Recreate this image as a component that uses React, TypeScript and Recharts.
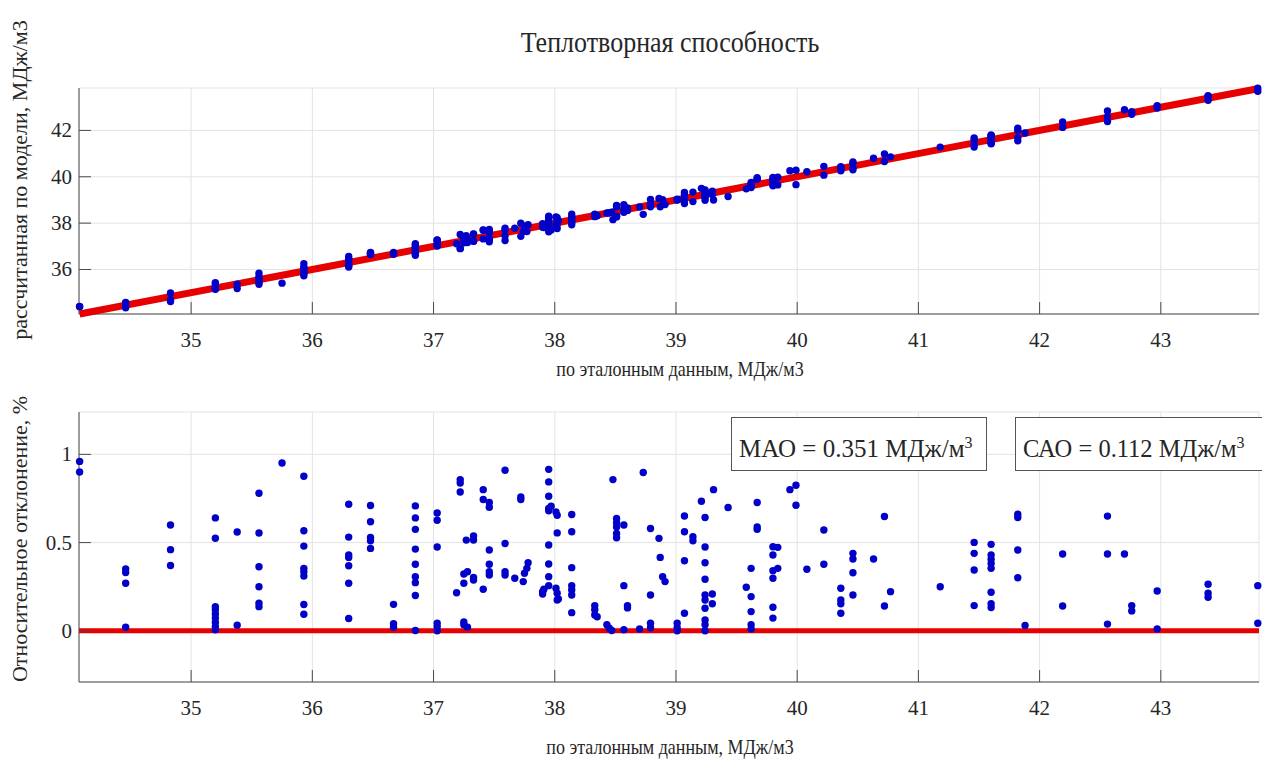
import { CartesianGrid, Scatter, ScatterChart, XAxis, YAxis } from "recharts";

const CHART_WIDTH = 1262;
const FONT = '"Liberation Serif", "Times New Roman", serif';
const DOT_COLOR = "#0000c8";
const DOT_RADIUS = 3.7;
const LINE_COLOR = "#e60000";
const AXIS_COLOR = "#4a4a4a";
const GRID_COLOR = "#e3e3e3";
const TEXT_COLOR = "#262626";
const TICK_FONT_SIZE = 21;
const TICK_LENGTH = 12;

const X_DOMAIN: [number, number] = [34.075, 43.81];
const TOP_Y_DOMAIN: [number, number] = [34.08, 43.83];
const BOTTOM_Y_DOMAIN: [number, number] = [-0.29, 1.24];

const xTicks = [35, 36, 37, 38, 39, 40, 41, 42, 43];
const topYTicks = [36, 38, 40, 42];
const bottomYTicks = [0, 0.5, 1];

// reference values (x of both panels)
const refValues = [
  34.08, 34.08,
  34.46, 34.46, 34.46, 34.46,
  34.83, 34.83, 34.83,
  35.2, 35.2, 35.2, 35.2, 35.2, 35.2, 35.2, 35.2, 35.2,
  35.38, 35.38,
  35.56, 35.56, 35.56, 35.56, 35.56, 35.56,
  35.75,
  35.93, 35.93, 35.93, 35.93, 35.93, 35.93, 35.93, 35.93,
  36.3, 36.3, 36.3, 36.3, 36.3, 36.3, 36.3,
  36.48, 36.48, 36.48, 36.48, 36.48,
  36.67, 36.67, 36.67,
  36.85, 36.85, 36.85, 36.85, 36.85, 36.85, 36.85, 36.85, 36.85,
  37.03, 37.03, 37.03, 37.03, 37.03, 37.03,
  37.19,
  37.22, 37.22, 37.22,
  37.25, 37.25, 37.25, 37.25,
  37.27,
  37.28, 37.28,
  37.33, 37.33, 37.33, 37.33,
  37.41, 37.41, 37.41,
  37.46, 37.46, 37.46, 37.46, 37.46, 37.46,
  37.59, 37.59, 37.59, 37.59,
  37.67,
  37.72, 37.72,
  37.74, 37.75, 37.77, 37.78,
  37.9, 37.9, 37.91,
  37.95, 37.95, 37.95, 37.95, 37.95, 37.95, 37.95, 37.95, 37.95,
  37.97,
  38.01, 38.02, 38.02, 38.01, 38.02, 38.02,
  38.03,
  38.14, 38.14, 38.14, 38.14, 38.14, 38.14, 38.14,
  38.33, 38.33, 38.33,
  38.35,
  38.43, 38.45, 38.47,
  38.48,
  38.51, 38.51, 38.51, 38.51, 38.51,
  38.57, 38.57, 38.57,
  38.6, 38.6,
  38.7, 38.73,
  38.79, 38.79, 38.79, 38.79,
  38.86, 38.87, 38.89, 38.91,
  39.01, 39.01, 39.01,
  39.07, 39.07, 39.07, 39.07,
  39.14, 39.14,
  39.21,
  39.24, 39.24, 39.24, 39.24, 39.24, 39.24, 39.24, 39.24, 39.24, 39.24,
  39.3, 39.3,
  39.31, 39.43, 39.58,
  39.62, 39.62, 39.62, 39.62, 39.62,
  39.67, 39.67, 39.67,
  39.8, 39.8, 39.8, 39.8, 39.8, 39.8,
  39.84, 39.84,
  39.94,
  39.99, 39.99,
  40.08,
  40.22, 40.22,
  40.36, 40.36, 40.36, 40.36,
  40.46, 40.46, 40.46, 40.46,
  40.63,
  40.72, 40.72,
  40.77, 41.18,
  41.46, 41.46, 41.46, 41.46,
  41.6, 41.6, 41.6, 41.6, 41.6, 41.6, 41.6, 41.6,
  41.82, 41.82, 41.82, 41.82,
  41.88,
  42.19, 42.19,
  42.56, 42.56, 42.56,
  42.7,
  42.76, 42.76,
  42.97, 42.97,
  43.39, 43.39, 43.39,
  43.8, 43.8,
];

// model values (y of the upper panel)
const modelValues = [
  34.41, 34.39,
  34.58, 34.35, 34.55, 34.45,
  34.62, 34.99, 34.7,
  35.43, 35.39, 35.15, 35.24, 35.17, 35.23, 35.18, 35.21, 35.2,
  35.18, 35.37,
  35.84, 35.36, 35.69, 35.47, 35.62, 35.51,
  35.41,
  36.25, 35.73, 36.1, 36.06, 35.81, 36.04, 35.88, 35.96,
  36.56, 36.11, 36.46, 36.15, 36.43, 36.2, 36.33,
  36.74, 36.71, 36.67, 36.67, 36.65,
  36.73, 36.66, 36.68,
  37.11, 36.61, 37.06, 36.68, 36.99, 36.74, 36.95, 36.78, 36.85,
  37.28, 37.26, 37.21, 37.01, 37.04, 37.03,
  37.11,
  36.9, 36.91, 37.51,
  37.37, 37.15, 37.27, 37.24,
  37.46,
  37.16, 37.29,
  37.53, 37.52, 37.22, 37.22,
  37.71, 37.69, 37.32,
  37.73, 37.2, 37.63, 37.32, 37.59, 37.34,
  37.25, 37.78, 37.46, 37.71,
  37.78,
  37.43, 38.0,
  37.64, 37.87, 37.64, 37.93,
  37.82, 37.98, 37.81,
  38.3, 37.63, 38.24, 37.69, 38.21, 37.77, 38.09, 37.83, 38.05,
  37.7,
  38.27, 37.77, 38.23, 37.92, 38.1, 37.95,
  38.1,
  38.39, 37.93, 38.28, 38.04, 38.23, 38.06, 38.18,
  38.39, 38.28, 38.36,
  38.32,
  38.44, 38.44, 38.47,
  38.15,
  38.76, 38.27, 38.74, 38.3, 38.71,
  38.8, 38.47, 38.57,
  38.55, 38.65,
  38.7, 38.38,
  39.02, 38.71, 38.81, 38.78,
  39.06, 38.71, 39.01, 38.8,
  39.03, 39.0, 39.01,
  39.32, 38.85, 39.23, 39.03,
  38.93, 39.34,
  39.5,
  38.99, 39.43, 39.09, 39.36, 39.16, 39.31, 39.19, 39.26, 39.23, 39.24,
  39.38, 39.24,
  39.0, 39.15, 39.48,
  39.76, 39.54, 39.66, 39.61, 39.62,
  39.96, 39.9, 39.9,
  39.61, 39.97, 39.66, 39.92, 39.75, 39.83,
  39.65, 39.98,
  40.26,
  39.66, 40.28,
  40.22,
  40.45, 40.07,
  40.26, 40.43, 40.3, 40.4,
  40.64, 40.3, 40.59, 40.38,
  40.8,
  40.98, 40.66,
  40.86, 41.28,
  41.67, 41.28, 41.6, 41.4,
  41.8, 41.42, 41.77, 41.44, 41.75, 41.51, 41.66, 41.55,
  42.1, 41.55, 42.01, 41.69,
  41.89,
  42.37, 42.13,
  42.84, 42.38, 42.58,
  42.89,
  42.7, 42.81,
  43.07, 42.97,
  43.5, 43.3, 43.47,
  43.69, 43.82,
];

// relative deviation, % (y of the lower panel)
const deviationValues = [
  0.96, 0.9,
  0.35, 0.33, 0.27, 0.02,
  0.6, 0.46, 0.37,
  0.64, 0.525, 0.137, 0.119, 0.096, 0.072, 0.047, 0.024, 0.006,
  0.56, 0.032,
  0.78, 0.554, 0.363, 0.25, 0.156, 0.137,
  0.951,
  0.876, 0.567, 0.48, 0.354, 0.335, 0.31, 0.149, 0.094,
  0.717, 0.531, 0.43, 0.416, 0.369, 0.27, 0.07,
  0.71, 0.618, 0.529, 0.51, 0.467,
  0.15, 0.04, 0.02,
  0.708, 0.64, 0.575, 0.463, 0.377, 0.307, 0.273, 0.2, 0.002,
  0.668, 0.627, 0.475, 0.043, 0.024, 0,
  0.216,
  0.857, 0.838, 0.787,
  0.322, 0.27, 0.05, 0.034,
  0.514,
  0.335, 0.02,
  0.537, 0.514, 0.303, 0.288,
  0.8, 0.744, 0.236,
  0.727, 0.7, 0.458, 0.377, 0.335, 0.316,
  0.91, 0.495, 0.335, 0.316,
  0.298,
  0.759, 0.744,
  0.279, 0.326, 0.354, 0.386,
  0.222, 0.209, 0.236,
  0.915, 0.844, 0.763, 0.693, 0.68, 0.486, 0.379, 0.307, 0.256,
  0.706,
  0.674, 0.655, 0.555, 0.241, 0.213, 0.175,
  0.18,
  0.659, 0.561, 0.358, 0.256, 0.232, 0.203, 0.103,
  0.143, 0.119, 0.09,
  0.08,
  0.034, 0.015, 0.002,
  0.857,
  0.637, 0.612, 0.589, 0.552, 0.527,
  0.6, 0.256, 0.006,
  0.143, 0.13,
  0.01, 0.897,
  0.58, 0.203, 0.043, 0.017,
  0.524, 0.416, 0.307, 0.279,
  0.043, 0.017, 0,
  0.651, 0.561, 0.397, 0.1,
  0.533, 0.51,
  0.734,
  0.642, 0.475, 0.386, 0.292, 0.203, 0.175, 0.128, 0.062, 0.034, 0,
  0.209, 0.153,
  0.8, 0.699, 0.247,
  0.354, 0.194, 0.109, 0.034, 0.011,
  0.727, 0.589, 0.575,
  0.476, 0.43, 0.341, 0.298, 0.134, 0.072,
  0.473, 0.354,
  0.8,
  0.825, 0.712,
  0.349,
  0.571, 0.377,
  0.241, 0.175, 0.153, 0.1,
  0.439, 0.407, 0.329, 0.203,
  0.407,
  0.648, 0.141,
  0.222, 0.25,
  0.501, 0.439, 0.345, 0.143,
  0.49, 0.43, 0.405, 0.382, 0.354, 0.219, 0.153, 0.132,
  0.661, 0.642, 0.458, 0.301,
  0.03,
  0.435, 0.141,
  0.65, 0.435, 0.038,
  0.435,
  0.143, 0.113,
  0.226, 0.011,
  0.264, 0.213, 0.19,
  0.256, 0.043,
];

const fitLineX = [34.08, 43.81];
const fitLineY = [34.08, 43.81];
const zeroLineX = [34.075, 43.81];
const zeroLineY = [0, 0];

const topPoints = refValues.map((x, i) => ({ x, y: modelValues[i] }));
const bottomPoints = refValues.map((x, i) => ({ x, y: deviationValues[i] }));
const fitLine = fitLineX.map((x, i) => ({ x, y: fitLineY[i] }));
const zeroLine = zeroLineX.map((x, i) => ({ x, y: zeroLineY[i] }));

function XTick(props: any) {
  const { x, y, payload } = props;
  return (
    <g>
      <line x1={x} x2={x} y1={y} y2={y - TICK_LENGTH} stroke={AXIS_COLOR} />
      <text
        x={x}
        y={y + 26}
        textAnchor="middle"
        dominantBaseline="central"
        fontSize={TICK_FONT_SIZE}
        fontFamily={FONT}
        fill={TEXT_COLOR}
      >
        {payload.value}
      </text>
    </g>
  );
}

function YTick(props: any) {
  const { x, y, payload } = props;
  return (
    <g>
      <line x1={x} x2={x + TICK_LENGTH} y1={y} y2={y} stroke={AXIS_COLOR} />
      <text
        x={x - 7}
        y={y}
        textAnchor="end"
        dominantBaseline="central"
        fontSize={TICK_FONT_SIZE}
        fontFamily={FONT}
        fill={TEXT_COLOR}
      >
        {payload.value}
      </text>
    </g>
  );
}

const dotShape = (p: any) => (
  <circle cx={p.cx} cy={p.cy} r={DOT_RADIUS} fill={DOT_COLOR} />
);
const noShape = () => <g />;

const textStyle: React.CSSProperties = {
  position: "absolute",
  fontFamily: FONT,
  color: TEXT_COLOR,
  whiteSpace: "nowrap",
  lineHeight: 1,
};

function AxisLabel({
  x,
  y,
  size,
  rotate,
  children,
}: {
  x: number;
  y: number;
  size: number;
  rotate?: boolean;
  children: React.ReactNode;
}) {
  return (
    <div
      style={{
        ...textStyle,
        left: x,
        top: y,
        fontSize: size,
        transform: `translate(-50%, -50%)${rotate ? " rotate(-90deg)" : " scaleY(1.12)"}`,
      }}
    >
      {children}
    </div>
  );
}

function StatBox({
  left,
  width,
  size,
  label,
  value,
}: {
  left: number;
  width: number;
  size: number;
  label: string;
  value: string;
}) {
  return (
    <div
      style={{
        ...textStyle,
        left,
        top: 417,
        width,
        height: 54,
        boxSizing: "border-box",
        border: "1px solid #555",
        background: "#fff",
        fontSize: size,
        paddingLeft: 7,
        paddingTop: 17,
      }}
    >
      {label} = {value} МДж/м
      <sup style={{ fontSize: 16, verticalAlign: "9px" }}>3</sup>
    </div>
  );
}

export default function App() {
  return (
    <div
      style={{
        position: "absolute",
        left: 0,
        top: 0,
        width: CHART_WIDTH,
        height: 761,
        overflow: "hidden",
        background: "#fff",
      }}
    >
      <div style={{ position: "absolute", left: 0, top: 0 }}>
        <ScatterChart
          width={CHART_WIDTH}
          height={380}
          margin={{ top: 88, right: 3, bottom: 0, left: 0 }}
        >
          <CartesianGrid stroke={GRID_COLOR} />
          <XAxis
            type="number"
            dataKey="x"
            domain={X_DOMAIN}
            ticks={xTicks}
            height={66}
            tickSize={0}
            tickMargin={0}
            tickLine={false}
            tick={XTick}
            axisLine={{ stroke: AXIS_COLOR }}
          />
          <YAxis
            type="number"
            dataKey="y"
            domain={TOP_Y_DOMAIN}
            ticks={topYTicks}
            width={79}
            tickSize={0}
            tickMargin={0}
            tickLine={false}
            tick={YTick}
            axisLine={{ stroke: AXIS_COLOR }}
          />
          <Scatter
            data={fitLine}
            line={{ stroke: LINE_COLOR, strokeWidth: 7 }}
            shape={noShape}
            isAnimationActive={false}
          />
          <Scatter data={topPoints} shape={dotShape} isAnimationActive={false} />
        </ScatterChart>
      </div>

      <div style={{ position: "absolute", left: 0, top: 380 }}>
        <ScatterChart
          width={CHART_WIDTH}
          height={381}
          margin={{ top: 32, right: 3, bottom: 0, left: 0 }}
        >
          <CartesianGrid stroke={GRID_COLOR} />
          <XAxis
            type="number"
            dataKey="x"
            domain={X_DOMAIN}
            ticks={xTicks}
            height={79}
            tickSize={0}
            tickMargin={0}
            tickLine={false}
            tick={XTick}
            axisLine={{ stroke: AXIS_COLOR }}
          />
          <YAxis
            type="number"
            dataKey="y"
            domain={BOTTOM_Y_DOMAIN}
            ticks={bottomYTicks}
            width={79}
            tickSize={0}
            tickMargin={0}
            tickLine={false}
            tick={YTick}
            axisLine={{ stroke: AXIS_COLOR }}
          />
          <Scatter
            data={zeroLine}
            line={{ stroke: LINE_COLOR, strokeWidth: 5 }}
            shape={noShape}
            isAnimationActive={false}
          />
          <Scatter
            data={bottomPoints}
            shape={dotShape}
            isAnimationActive={false}
          />
        </ScatterChart>
      </div>

      <AxisLabel x={670} y={43} size={26}>
        Теплотворная способность
      </AxisLabel>
      <AxisLabel x={680} y={369} size={18}>
        по эталонным данным, МДж/м3
      </AxisLabel>
      <AxisLabel x={670} y={747} size={18}>
        по эталонным данным, МДж/м3
      </AxisLabel>
      <AxisLabel x={20} y={180} size={22} rotate>
        рассчитанная по модели, МДж/м3
      </AxisLabel>
      <AxisLabel x={20} y={539} size={22} rotate>
        Относительное отклонение, %
      </AxisLabel>

      <StatBox left={731} width={256} size={25} label="МАО" value="0.351" />
      <StatBox left={1015} width={260} size={24.5} label="САО" value="0.112" />
    </div>
  );
}
